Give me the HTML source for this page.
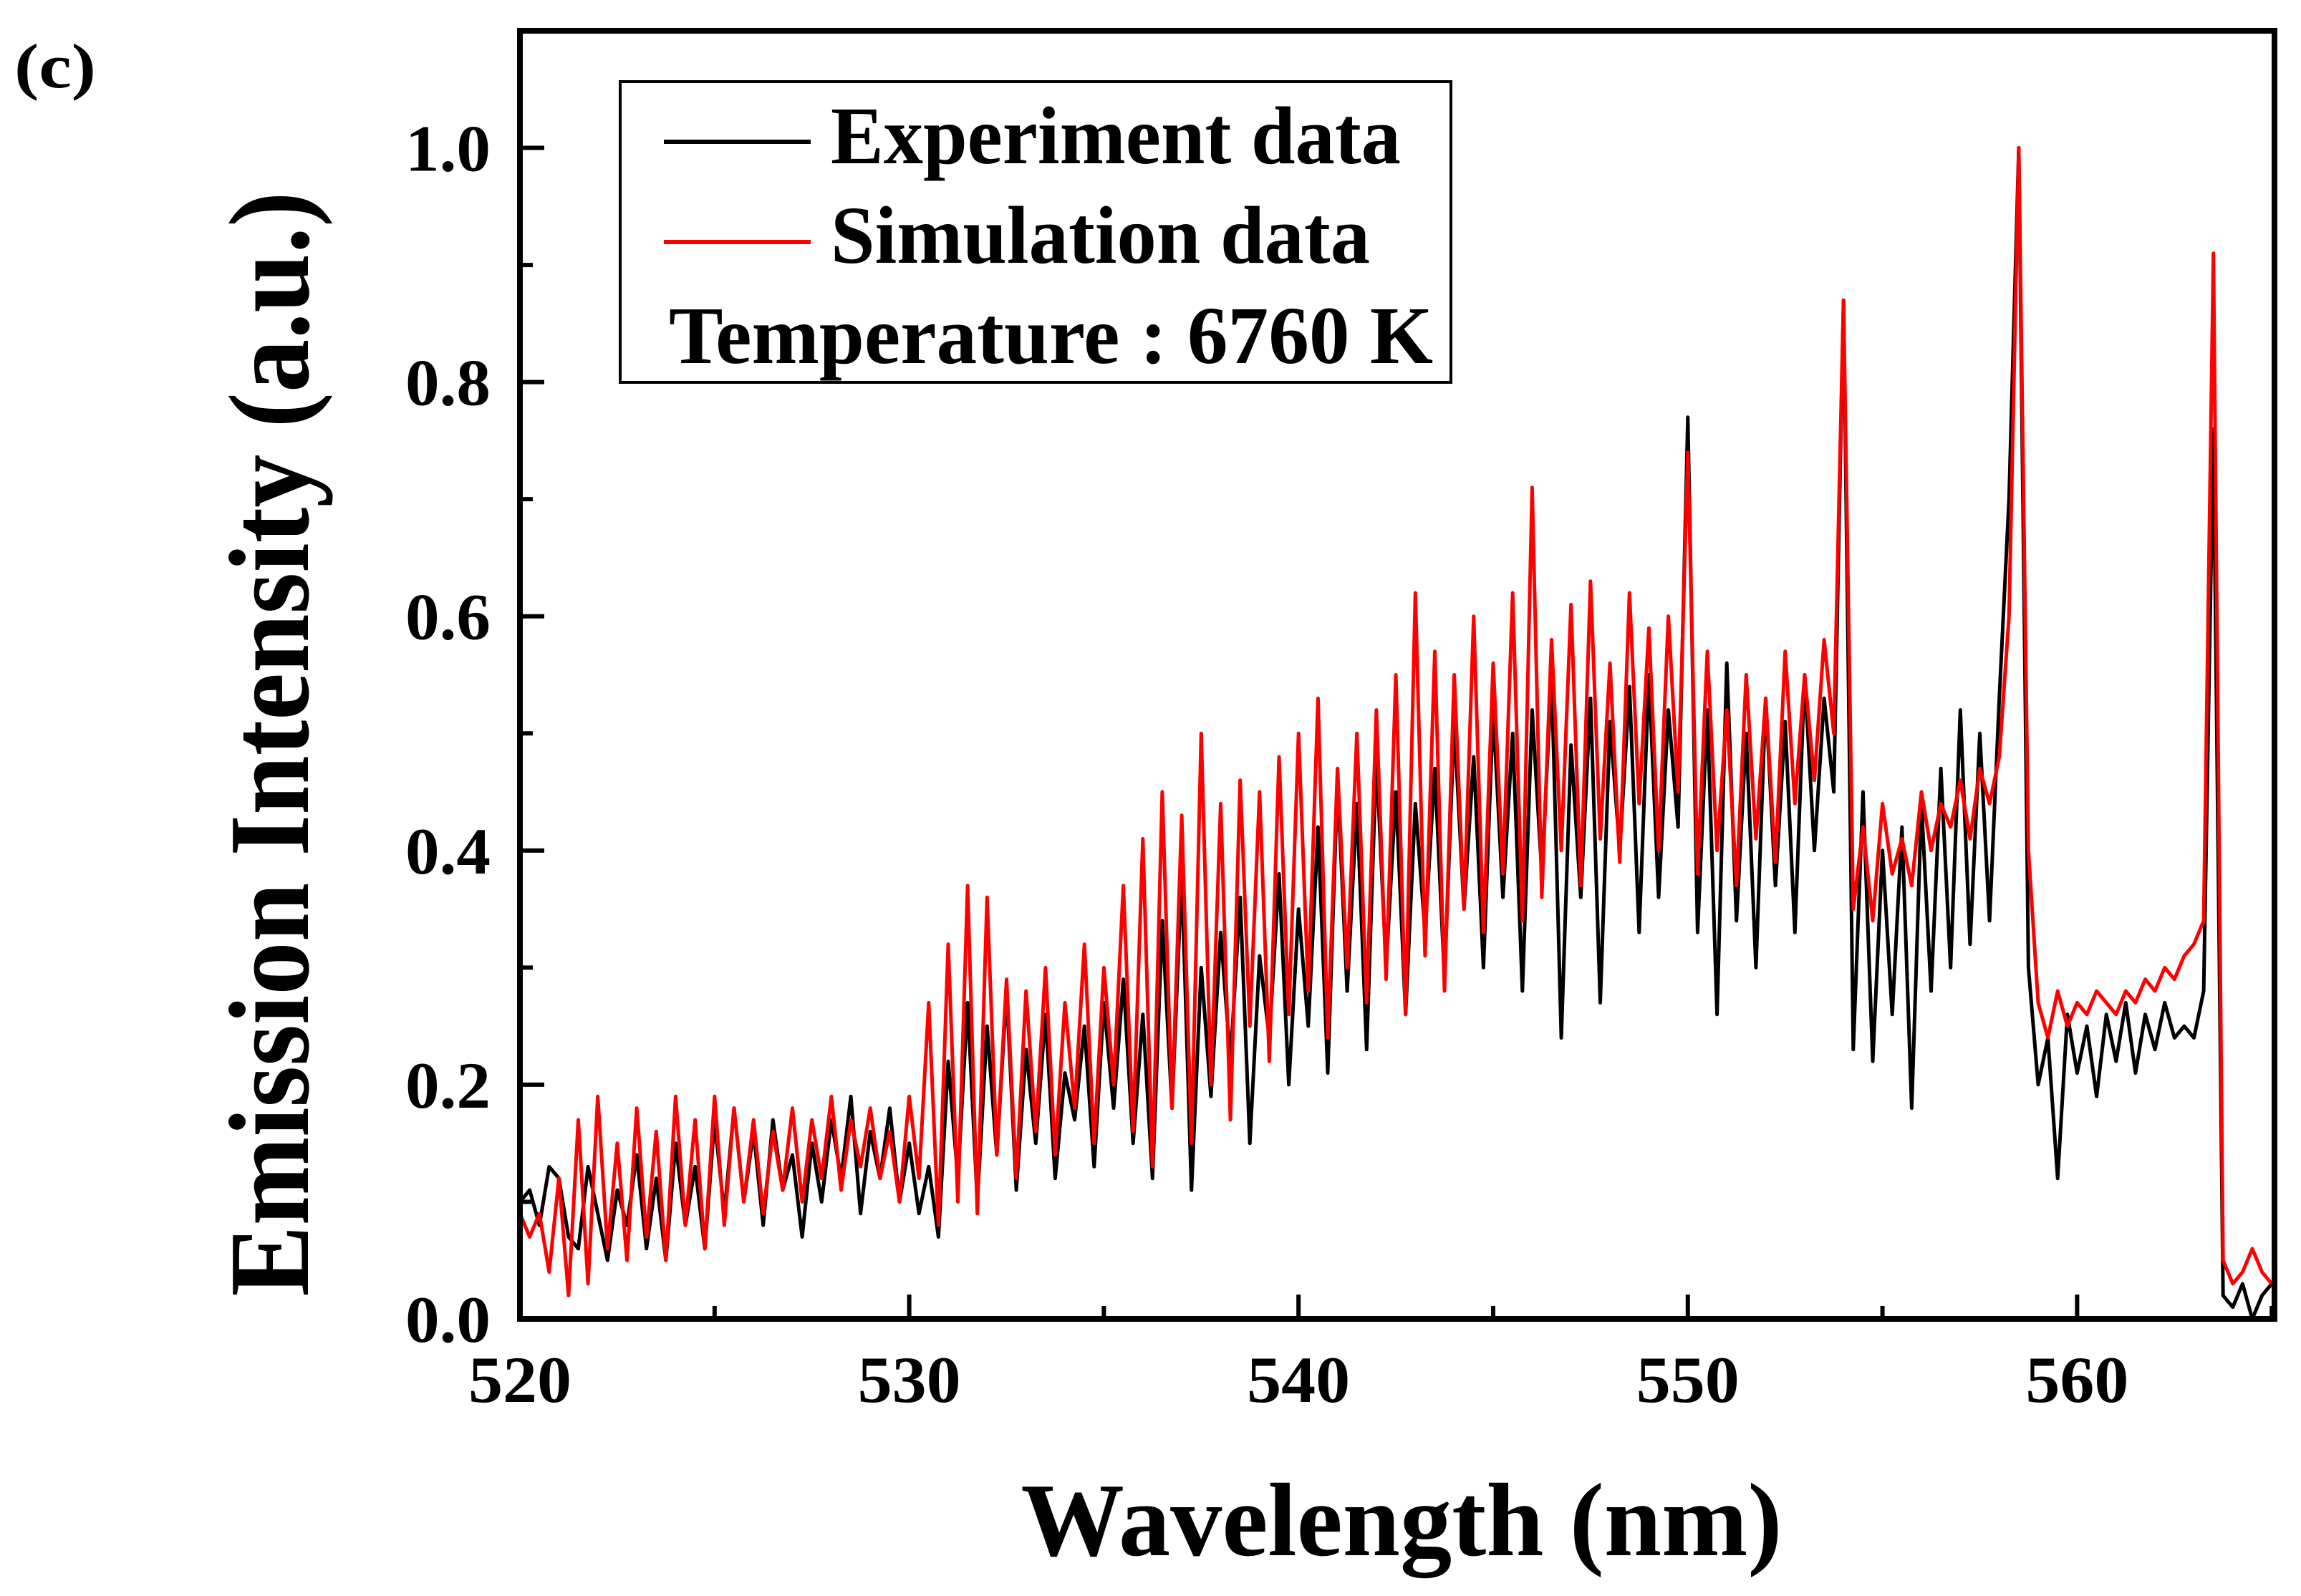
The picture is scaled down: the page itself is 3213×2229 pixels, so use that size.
<!DOCTYPE html>
<html><head><meta charset="utf-8">
<style>html,body{margin:0;padding:0;background:#fff}svg{display:block}text{font-family:"Liberation Serif",serif;font-weight:bold;fill:#000}</style>
</head><body>
<svg id="chart" width="3213" height="2229" viewBox="0 0 3213 2229" xmlns="http://www.w3.org/2000/svg">
<defs><clipPath id="clip"><rect x="726" y="43" width="2450" height="1799"/></clipPath></defs>
<text x="20" y="122" font-size="88" textLength="114" lengthAdjust="spacingAndGlyphs">(c)</text>
<g id="ticks"></g>
<g id="series" clip-path="url(#clip)"></g>
<rect x="726" y="43" width="2450" height="1799" fill="none" stroke="#000" stroke-width="8"/>
<text x="1957" y="2172" font-size="146" text-anchor="middle" textLength="1063" lengthAdjust="spacingAndGlyphs">Wavelength (nm)</text>
<text transform="translate(430,1039) rotate(-90)" font-size="160" text-anchor="middle" textLength="1543" lengthAdjust="spacingAndGlyphs">Emission Intensity (a.u.)</text>
<g>
<rect x="866" y="114" width="1160" height="420" fill="#fff" stroke="#000" stroke-width="4"/>
<line x1="927" y1="198" x2="1132" y2="198" stroke="#000" stroke-width="6"/>
<text x="1160" y="228" font-size="114" textLength="796" lengthAdjust="spacingAndGlyphs">Experiment data</text>
<line x1="927" y1="338" x2="1132" y2="338" stroke="#ff0000" stroke-width="6"/>
<text x="1160" y="367" font-size="114" textLength="753" lengthAdjust="spacingAndGlyphs">Simulation data</text>
<text x="934" y="507" font-size="114" textLength="1067" lengthAdjust="spacingAndGlyphs">Temperature : 6760 K</text>
</g>
</svg>
<script>
const xStart = 520;
const xStep = 0.25;
const xTicks = [520, 530, 540, 550, 560];
const xTickLabels = ["520", "530", "540", "550", "560"];
const yTicks = [0, 0.2, 0.4, 0.6, 0.8, 1.0];
const yTickLabels = ["0.0", "0.2", "0.4", "0.6", "0.8", "1.0"];
const experiment = [0.10,0.11,0.08,0.13,0.12,0.07,0.06,0.13,0.09,0.05,0.11,0.08,0.14,0.06,0.12,0.05,0.15,0.08,0.13,0.06,0.17,
0.09,0.18,0.10,0.16,0.08,0.17,0.11,0.14,0.07,0.15,0.10,0.17,0.12,0.19,0.09,0.16,0.12,0.18,0.10,0.15,
0.09,0.13,0.07,0.22,0.12,0.27,0.10,0.25,0.14,0.28,0.11,0.23,0.15,0.26,0.12,0.21,0.17,0.25,0.13,0.27,
0.18,0.29,0.15,0.26,0.12,0.34,0.18,0.38,0.11,0.30,0.19,0.33,0.22,0.36,0.15,0.31,0.24,0.38,0.20,0.35,
0.25,0.42,0.21,0.46,0.28,0.44,0.23,0.48,0.30,0.45,0.26,0.44,0.33,0.47,0.29,0.51,0.35,0.48,0.30,0.52,
0.36,0.50,0.28,0.52,0.38,0.55,0.24,0.49,0.36,0.53,0.27,0.51,0.40,0.54,0.33,0.55,0.36,0.52,0.42,0.77,
0.33,0.52,0.26,0.56,0.34,0.50,0.30,0.53,0.37,0.51,0.33,0.55,0.40,0.53,0.45,0.87,
0.23,0.45,0.22,0.40,0.26,0.42,0.18,0.44,0.28,0.47,0.30,0.52,0.32,0.50,0.34,0.53,0.70,
1.00,
0.30,0.20,0.24,0.12,0.26,0.21,0.25,0.19,0.26,0.22,0.27,0.21,0.26,0.23,0.27,0.24,0.25,0.24,0.28,
0.76,0.02,0.01,0.03,0.00,0.02,0.03];
const simulation = [0.09,0.07,0.09,0.04,0.12,0.02,0.17,0.03,0.19,0.06,0.15,0.05,0.18,0.07,0.16,0.05,0.19,0.08,0.17,0.06,0.19,
0.08,0.18,0.10,0.17,0.09,0.16,0.11,0.18,0.10,0.17,0.12,0.19,0.11,0.17,0.13,0.18,0.12,0.16,0.10,0.19,
0.12,0.27,0.08,0.32,0.10,0.37,0.09,0.36,0.14,0.29,0.12,0.28,0.16,0.30,0.14,0.27,0.18,0.32,0.15,0.30,
0.20,0.37,0.16,0.41,0.13,0.45,0.18,0.43,0.15,0.50,0.20,0.44,0.17,0.46,0.25,0.45,0.22,0.48,0.26,0.50,
0.28,0.53,0.24,0.47,0.30,0.50,0.27,0.52,0.29,0.55,0.26,0.62,0.31,0.57,0.28,0.55,0.35,0.60,0.33,0.56,
0.38,0.62,0.34,0.71,0.36,0.58,0.40,0.61,0.37,0.63,0.41,0.56,0.39,0.62,0.44,0.59,0.40,0.60,0.45,0.74,
0.38,0.57,0.40,0.52,0.37,0.55,0.41,0.53,0.39,0.57,0.44,0.55,0.46,0.58,0.50,0.87,
0.35,0.42,0.34,0.44,0.38,0.41,0.37,0.45,0.40,0.44,0.42,0.46,0.41,0.47,0.44,0.48,0.60,
1.00,
0.40,0.27,0.24,0.28,0.25,0.27,0.26,0.28,0.27,0.26,0.28,0.27,0.29,0.28,0.30,0.29,0.31,0.32,0.34,
0.91,0.05,0.03,0.04,0.06,0.04,0.03];

const NS = "http://www.w3.org/2000/svg";
const L = 726, R = 3176, T = 43, B = 1842;
const xMin = 520, xMax = 565.07, yMin = 0, yMax = 1.1;
function xs(v) { return L + (v - xMin) / (xMax - xMin) * (R - L); }
function ys(v) { return B - (v - yMin) / (yMax - yMin) * (B - T); }

const tg = document.getElementById('ticks');
function mk(tag, attrs) { const e = document.createElementNS(NS, tag); for (const k in attrs) e.setAttribute(k, attrs[k]); return e; }

for (let v = 520; v <= 565; v += 5) {
  const major = (v % 10 === 0);
  const t = mk('line', {x1: xs(v), x2: xs(v), y1: B, y2: B - (major ? 34 : 18), stroke: '#000', 'stroke-width': 6});
  
  
  tg.appendChild(t);
}
for (let k = 0; k <= 11; k++) {
  const v = k * 0.1;
  const major = (k % 2 === 0);
  const t = mk('line', {x1: L, x2: L + (major ? 34 : 18), y1: ys(v), y2: ys(v), stroke: '#000', 'stroke-width': 6});
  
  
  tg.appendChild(t);
}
xTicks.forEach((v, i) => {
  const t = mk('text', {x: xs(v), y: 1958, 'font-size': 92, 'text-anchor': 'middle', textLength: 144, lengthAdjust: 'spacingAndGlyphs'});
  t.textContent = xTickLabels[i];
  
  
  tg.appendChild(t);
});
yTicks.forEach((v, i) => {
  const t = mk('text', {x: 685, y: ys(v) + 32, 'font-size': 92, 'text-anchor': 'end', textLength: 119, lengthAdjust: 'spacingAndGlyphs'});
  t.textContent = yTickLabels[i];
  
  
  tg.appendChild(t);
});

const sg = document.getElementById('series');
function drawSeries(arr, color, name) {
  const pts = arr.map((v, i) => xs(xStart + i * xStep).toFixed(1) + ',' + ys(v).toFixed(1)).join(' ');
  const p = mk('polyline', {points: pts, fill: 'none', stroke: color, 'stroke-width': 5, 'stroke-linejoin': 'round'});
  
  
  sg.appendChild(p);
}
drawSeries(experiment, '#000', 'experiment-line');
drawSeries(simulation, '#ff0000', 'simulation-line');
</script>
</body></html>
